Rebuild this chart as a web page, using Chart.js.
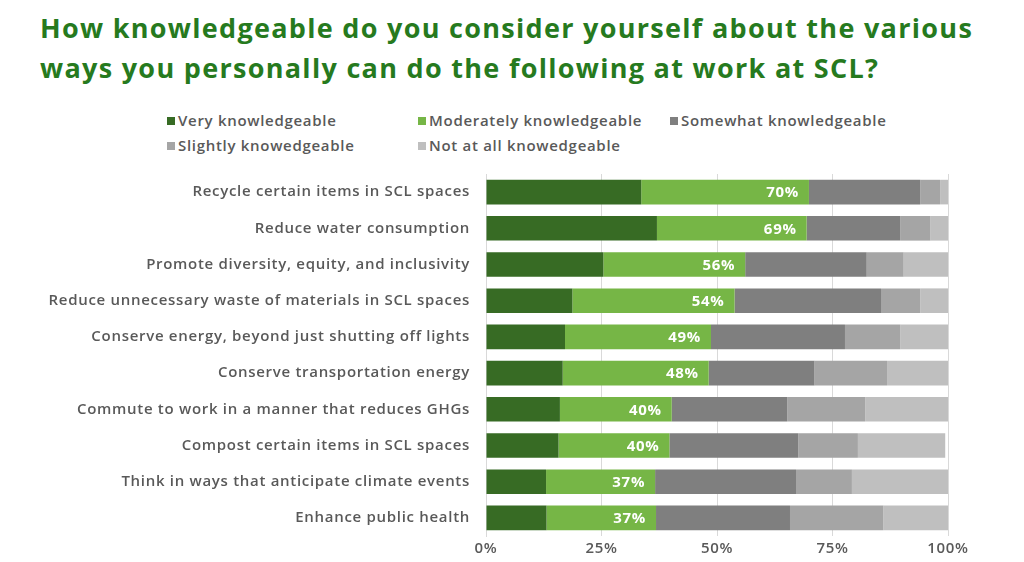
<!DOCTYPE html>
<html>
<head>
<meta charset="utf-8">
<script src="https://cdn.jsdelivr.net/npm/chart.js@4"></script>
<style>
  body { margin: 0; background: #fff; }
  #wrap { position: relative; width: 1024px; height: 562px; overflow: hidden; }
  #title {
    position: absolute; left: 40px; top: 8px; width: 990px;
    font-family: "Open Sans", sans-serif; font-weight: 700; font-size: 27px;
    letter-spacing: 1.3px; line-height: 40px; color: #267A1E;
  }
  #legend {
    position: absolute; left: 167px; top: 110px;
    font-family: "Open Sans", sans-serif; font-weight: 600; font-size: 15px;
    letter-spacing: 0.7px; color: #595959;
  }
  .item { position: absolute; white-space: nowrap; line-height: 20px; }
  .box { display: inline-block; width: 8px; height: 8px; margin-right: 3px; vertical-align: 1px; }
  #c { position: absolute; left: 0; top: 0; }
</style>
</head>
<body>
<div id="wrap">
  <div id="title">How knowledgeable do you consider yourself about the various<br>ways you personally can do the following at work at SCL?</div>
  <div id="legend"></div>
  <canvas id="c" width="1024" height="562"></canvas>
</div>
<script>
const categories = [
  'Recycle certain items in SCL spaces',
  'Reduce water consumption',
  'Promote diversity, equity, and inclusivity',
  'Reduce unnecessary waste of materials in SCL spaces',
  'Conserve energy, beyond just shutting off lights',
  'Conserve transportation energy',
  'Commute to work in a manner that reduces GHGs',
  'Compost certain items in SCL spaces',
  'Think in ways that anticipate climate events',
  'Enhance public health'
];
const veryKnow = [33.6, 37.0, 25.4, 18.7, 17.1, 16.6, 16.0, 15.7, 13.0, 13.1];
const moderatelyKnow = [36.3, 32.4, 30.7, 35.1, 31.6, 31.6, 24.2, 24.0, 23.6, 23.7];
const somewhatKnow = [24.1, 20.3, 26.3, 31.7, 29.0, 22.9, 25.0, 27.9, 30.5, 29.0];
const slightlyKnow = [4.3, 6.5, 8.0, 8.5, 12.0, 15.7, 16.9, 12.9, 12.1, 20.2];
const notAtAll = [1.7, 3.8, 9.6, 6.0, 10.3, 13.2, 17.9, 18.9, 20.9, 14.0];

const seriesNames = ['Very knowledgeable', 'Moderately knowledgeable', 'Somewhat knowledgeable',
  'Slightly knowedgeable', 'Not at all knowedgeable'];
const colors = ['#376B24', '#76B646', '#7F7F7F', '#A5A5A5', '#BFBFBF'];
const seriesData = [veryKnow, moderatelyKnow, somewhatKnow, slightlyKnow, notAtAll];

// legend laid out in columns like the original
const legendPos = [[0, 0], [251, 0], [503, 0], [0, 25], [251, 25]];
const legendEl = document.getElementById('legend');
seriesNames.forEach((name, i) => {
  const d = document.createElement('div');
  d.className = 'item';
  d.style.left = legendPos[i][0] + 'px';
  d.style.top = legendPos[i][1] + 'px';
  d.innerHTML = `<span class="box" style="background:${colors[i]}"></span>${name}`;
  legendEl.appendChild(d);
});

// wider text, closer to the original typeface
const spacing = {
  id: 'spacing',
  beforeDraw(chart) { chart.ctx.letterSpacing = '0.7px'; }
};

// white "top 2" totals at the end of the moderately segment
const totalLabels = {
  id: 'totalLabels',
  afterDatasetsDraw(chart) {
    const ctx = chart.ctx;
    const meta = chart.getDatasetMeta(1);
    ctx.save();
    ctx.font = '700 15px "Open Sans", sans-serif';
    ctx.fillStyle = '#fff';
    ctx.textAlign = 'right';
    ctx.textBaseline = 'middle';
    meta.data.forEach((bar, i) => {
      const total = Math.round(veryKnow[i] + moderatelyKnow[i]);
      ctx.fillText(total + '%', bar.x - 10, bar.y + 1);
    });
    ctx.restore();
  }
};

new Chart(document.getElementById('c'), {
  type: 'bar',
  data: {
    labels: categories,
    datasets: seriesData.map((d, i) => ({
      label: seriesNames[i],
      data: d,
      backgroundColor: colors[i],
      borderWidth: 0,
      barPercentage: 0.68,
      categoryPercentage: 1
    }))
  },
  options: {
    indexAxis: 'y',
    responsive: false,
    animation: false,
    layout: { padding: { top: 174, right: 76, bottom: 0, left: 0 } },
    plugins: {
      legend: { display: false },
      tooltip: { enabled: false }
    },
    scales: {
      x: {
        stacked: true,
        min: 0,
        max: 100,
        ticks: {
          stepSize: 25,
          callback: v => v + '%',
          color: '#595959',
          font: { family: '"Open Sans", sans-serif', size: 15, weight: '600' },
          padding: 4
        },
        grid: { color: '#D9D9D9', drawTicks: false },
        border: { display: false }
      },
      y: {
        stacked: true,
        afterFit: (scale) => { scale.width = 486; },
        ticks: {
          color: '#595959',
          font: { family: '"Open Sans", sans-serif', size: 15, weight: '600' },
          padding: 8
        },
        grid: { display: false },
        border: { display: true, color: '#D9D9D9' }
      }
    }
  },
  plugins: [spacing, totalLabels]
});
</script>
</body>
</html>
